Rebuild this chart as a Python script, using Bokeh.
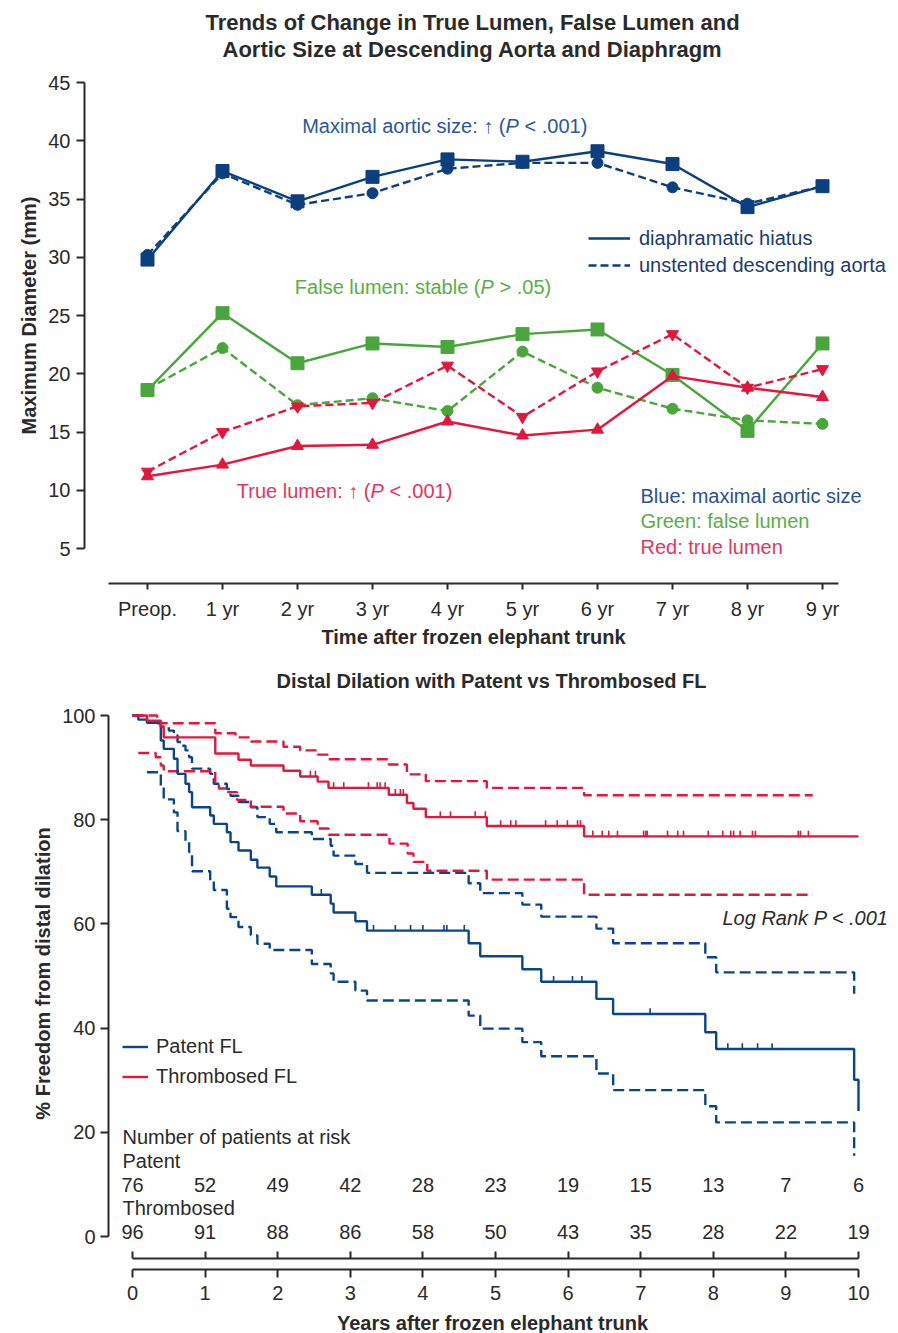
import numpy as np
from bokeh.plotting import figure
from bokeh.models import Label, Legend, LegendItem, LinearAxis, FixedTicker, Range1d
from bokeh.layouts import column
from bokeh.embed import file_html
from bokeh.resources import INLINE
from bokeh.core.properties import value

FONT = "Liberation Sans"

# ---------------- data: top chart ----------------
time_labels = ["Preop.", "1 yr", "2 yr", "3 yr", "4 yr", "5 yr", "6 yr", "7 yr", "8 yr", "9 yr"]
aorta_hiatus = [29.8, 37.4, 34.8, 36.9, 38.4, 38.2, 39.1, 38.0, 34.3, 36.1]
aorta_desc = [30.2, 37.2, 34.5, 35.5, 37.6, 38.1, 38.1, 36.0, 34.6, 36.1]
fl_hiatus = [18.6, 25.2, 20.9, 22.6, 22.3, 23.4, 23.8, 19.9, 15.1, 22.6]
fl_desc = [18.7, 22.2, 17.3, 17.9, 16.8, 21.9, 18.8, 17.0, 16.0, 15.7]
tl_hiatus = [11.2, 12.2, 13.8, 13.9, 15.9, 14.7, 15.2, 19.8, 18.8, 18.0]
tl_desc = [11.6, 15.0, 17.2, 17.5, 20.7, 16.3, 20.2, 23.4, 18.8, 20.4]
y_ticks_top = [5, 10, 15, 20, 25, 30, 35, 40, 45]

# ---------------- data: bottom chart (Kaplan-Meier) ----------------
patent_t = [0, 0.08, 0.2, 0.39, 0.43, 0.57, 0.62, 0.73, 0.78, 0.82, 1.07, 1.12, 1.30, 1.35, 1.46,
            1.63, 1.72, 1.89, 1.98, 2.47, 2.73, 2.77, 3.07, 3.23, 4.63, 4.79, 5.37, 5.63, 6.39,
            6.62, 7.89, 8.04, 9.94, 10.0]
patent_s = [100, 99.2, 98.6, 95.2, 93.6, 91.7, 88.8, 86.9, 85.3, 82.4, 80.8, 79.2, 77.6, 75.7, 74.1,
            72.3, 70.8, 69.1, 67.2, 65.6, 63.9, 62.2, 60.5, 58.7, 56.3, 53.8, 51.3, 48.9, 45.6,
            42.7, 39.2, 36.0, 30.1, 24.1]
patent_up_t = [0, 0.2, 0.39, 0.5, 0.57, 0.62, 0.68, 0.73, 0.78, 0.82, 1.07, 1.12, 1.30, 1.35, 1.46,
               1.63, 1.72, 1.89, 1.98, 2.47, 2.73, 2.77, 3.07, 3.23, 4.63, 4.79, 5.37, 5.63, 6.39,
               6.62, 7.89, 8.04, 9.94]
patent_up_s = [100, 98.7, 97.8, 97.1, 96.2, 94.9, 94.2, 93.3, 92.0, 89.8, 88.8, 86.9, 85.9, 84.6, 83.4,
               82.4, 80.5, 79.2, 77.6, 76.3, 75.0, 73.1, 71.5, 69.8, 67.8, 65.9, 63.7, 61.4, 59.1,
               56.3, 53.6, 50.7, 46.6]
patent_lo_t = [0.2, 0.39, 0.43, 0.57, 0.62, 0.73, 0.78, 0.82, 1.07, 1.12, 1.30, 1.35, 1.46, 1.63,
               1.72, 1.89, 2.47, 2.73, 2.77, 3.07, 3.23, 4.63, 4.79, 5.37, 5.63, 6.39, 6.62, 7.89,
               8.04, 9.94]
patent_lo_s = [89.1, 86.2, 83.9, 81.4, 77.8, 75.7, 73.8, 70.1, 68.3, 66.5, 62.9, 61.3, 59.4, 57.8,
               56.2, 55.0, 52.3, 50.5, 48.9, 47.2, 45.3, 42.4, 39.9, 37.3, 34.6, 31.3, 28.1, 25.0,
               21.9, 15.5]
patent_cens = [2.6, 3.32, 3.62, 3.83, 4.0, 4.29, 4.33, 4.57, 5.80, 6.06, 6.19, 7.13, 8.2, 8.4, 8.61, 8.81]

thromb_t = [0, 0.2, 0.39, 0.43, 1.14, 1.46, 1.63, 2.08, 2.31, 2.55, 2.7, 3.53, 3.78, 3.87, 4.04,
            4.88, 6.22, 10.0]
thromb_s = [100, 99.0, 97.9, 95.8, 92.7, 91.5, 90.4, 89.4, 88.3, 87.3, 86.1, 84.8, 83.2, 82.1, 80.5,
            78.8, 76.8, 76.8]
thromb_up_t = [0, 0.34, 1.14, 1.42, 1.63, 2.08, 2.31, 2.55, 2.7, 3.53, 3.78, 4.04, 4.88, 6.22, 9.37]
thromb_up_s = [100, 98.5, 96.6, 95.8, 95.0, 94.0, 93.3, 92.5, 91.6, 90.6, 88.7, 87.4, 86.1, 84.7, 84.7]
thromb_lo_t = [0.08, 0.32, 0.39, 0.43, 1.14, 1.19, 1.30, 1.44, 1.63, 2.08, 2.31, 2.55, 2.7, 3.54,
               3.79, 3.87, 4.06, 4.88, 6.22, 9.37]
thromb_lo_s = [92.8, 92.0, 90.4, 89.3, 87.2, 86.0, 85.3, 83.8, 82.5, 81.2, 79.7, 78.3, 77.1, 75.4,
               73.5, 71.9, 70.2, 68.5, 65.6, 65.6]
thromb_cens = [2.45, 2.52, 2.77, 2.91, 3.25, 3.37, 3.41, 3.48, 3.62, 3.69, 3.73, 4.24, 4.38, 4.72,
               4.86, 5.07, 5.21, 5.28, 5.69, 5.85, 5.99, 6.13, 6.17, 6.34, 6.47, 6.56, 6.68, 7.04,
               7.07, 7.09, 7.37, 7.51, 7.59, 7.93, 8.13, 8.24, 8.28, 8.37, 8.54, 8.58, 9.17, 9.2, 9.31]

risk_years = [0, 1, 2, 3, 4, 5, 6, 7, 8, 9, 10]
risk_patent = [76, 52, 49, 42, 28, 23, 19, 15, 13, 7, 6]
risk_thromb = [96, 91, 88, 86, 58, 50, 43, 35, 28, 22, 19]
y_ticks_bottom = [0, 20, 40, 60, 80, 100]

# ---------------- styles / layout ----------------
NAVY = "#0d3f80"
GREEN = "#4aa63c"
RED = "#e3173e"
KM_BLUE = "#0b4589"
KM_RED = "#e2173d"
AX = "#2a2a2a"
TXT = "#2a2a2a"
BLUE_TXT = "#2c56a0"
GREEN_TXT = "#5aae48"
RED_TXT = "#e8345a"
W = 898
H1 = 660
H2 = 673


class PixMap:
    """Linear pixel <-> data mapping for a figure whose frame fills the canvas."""

    def __init__(self, x_anchor_px, x_anchor_val, px_per_x, y_anchor_px, y_anchor_val, px_per_y, h):
        self.xa, self.xv, self.kx = x_anchor_px, x_anchor_val, px_per_x
        self.ya, self.yv, self.ky = y_anchor_px, y_anchor_val, px_per_y
        self.h = h

    def x(self, px):
        return self.xv + (px - self.xa) / self.kx

    def y(self, py):
        return self.yv - (py - self.ya) / self.ky


def make_fig(m, h):
    p = figure(width=W, height=h, x_range=Range1d(m.x(0), m.x(W)), y_range=Range1d(m.y(h), m.y(0)),
               output_backend="svg", toolbar_location=None, x_axis_location=None,
               y_axis_location=None, min_border=0, min_border_left=0, min_border_right=0,
               min_border_top=0, min_border_bottom=0)
    p.outline_line_color = None
    p.grid.visible = False
    p.background_fill_color = "white"
    p.border_fill_color = "white"
    return p


def style_axis(a, tick_in, tick_out, standoff, size="20px"):
    a.major_tick_in = tick_in
    a.major_tick_out = tick_out
    a.minor_tick_line_color = None
    a.major_label_standoff = standoff
    a.axis_line_width = 2
    a.axis_line_color = AX
    a.major_tick_line_width = 2
    a.major_tick_line_color = AX
    a.major_label_text_font = FONT
    a.major_label_text_font_size = size
    a.major_label_text_color = TXT


def add_label(p, h, px, py, text, size="20px", color=TXT, style="normal", align="left", angle=0.0):
    p.add_layout(Label(x=px, y=h - py, x_units="screen", y_units="screen",
                       text=text, text_font=FONT, text_font_size=size, text_color=color,
                       text_font_style=style, text_align=align, text_baseline="middle",
                       angle=angle))


# =============== top chart ===============
m1 = PixMap(147, 0, 75.0, 82, 45, 11.65, H1)
p1 = make_fig(m1, H1)

xs = list(range(len(time_labels)))
ya = LinearAxis(ticker=FixedTicker(ticks=y_ticks_top), bounds=(5, 45), fixed_location=m1.x(84))
style_axis(ya, 0, 8, 6)
p1.add_layout(ya, "left")
xa = LinearAxis(ticker=FixedTicker(ticks=xs), bounds=(m1.x(108), m1.x(838)), fixed_location=m1.y(583),
                major_label_overrides={i: lab for i, lab in enumerate(time_labels)})
style_axis(xa, 0, 6, 8)
p1.add_layout(xa, "below")

LW = 2.4
DASH_TOP = "8 4"
r_bd = p1.line(xs, aorta_desc, color=NAVY, line_width=LW, line_dash=DASH_TOP)
p1.scatter(xs, aorta_desc, marker="circle", size=11, color=NAVY)
r_bs = p1.line(xs, aorta_hiatus, color=NAVY, line_width=LW)
p1.scatter(xs, aorta_hiatus, marker="square", size=13, color=NAVY)

p1.line(xs, fl_desc, color=GREEN, line_width=LW, line_dash=DASH_TOP)
p1.scatter(xs, fl_desc, marker="circle", size=11, color=GREEN)
p1.line(xs, fl_hiatus, color=GREEN, line_width=LW)
p1.scatter(xs, fl_hiatus, marker="square", size=13, color=GREEN)

p1.line(xs, tl_desc, color=RED, line_width=LW, line_dash=DASH_TOP)
p1.scatter(xs, tl_desc, marker="inverted_triangle", size=12, color=RED)
p1.line(xs, tl_hiatus, color=RED, line_width=LW)
p1.scatter(xs, tl_hiatus, marker="triangle", size=12, color=RED)

leg1 = Legend(items=[LegendItem(label="diaphramatic hiatus", renderers=[r_bs]),
                     LegendItem(label="unstented descending aorta", renderers=[r_bd])],
              location=(588, H1 - 277), orientation="vertical",
              glyph_width=42, glyph_height=24, label_height=24, label_standoff=9, spacing=3,
              padding=0, margin=0, border_line_color=None, background_fill_alpha=0,
              label_text_font=FONT, label_text_font_size="20px", label_text_color="#1e3a70")
p1.add_layout(leg1)

L1 = lambda *a, **k: add_label(p1, H1, *a, **k)
L1(472, 22, "Trends of Change in True Lumen, False Lumen and", size="22px", style="bold", align="center")
L1(472, 49, "Aortic Size at Descending Aorta and Diaphragm", size="22px", style="bold", align="center")
L1(28, 315, "Maximum Diameter (mm)", size="20px", style="bold", align="center", angle=np.pi / 2)
L1(473, 636, "Time after frozen elephant trunk", size="20px", style="bold", align="center")

L1(505, 125, "Maximal aortic size: \u2191 (", color=BLUE_TXT, align="right")
L1(505, 125, "P", color=BLUE_TXT, style="italic")
L1(524, 125, "< .001)", color=BLUE_TXT)
L1(480, 286, "False lumen: stable (", color=GREEN_TXT, align="right")
L1(480, 286, "P", color=GREEN_TXT, style="italic")
L1(499, 286, "> .05)", color=GREEN_TXT)
L1(370, 490, "True lumen: \u2191 (", color=RED_TXT, align="right")
L1(370, 490, "P", color=RED_TXT, style="italic")
L1(389, 490, "< .001)", color=RED_TXT)
L1(640, 495, "Blue: maximal aortic size", color="#2b4f9a")
L1(640, 520, "Green: false lumen", color=GREEN_TXT)
L1(640, 546, "Red: true lumen", color=RED_TXT)

# =============== bottom chart ===============
TOP2 = H1  # page y where the bottom figure starts
m2 = PixMap(132, 0, 72.6, 715 - TOP2, 100, 5.21, H2)
p2 = make_fig(m2, H2)

yb = LinearAxis(ticker=FixedTicker(ticks=y_ticks_bottom), bounds=(0, 100), fixed_location=m2.x(108))
style_axis(yb, 0, 8, 5)
p2.add_layout(yb, "left")

# upper axis line (ticks pointing up) carries the thrombosed at-risk numbers
ax_up = LinearAxis(ticker=FixedTicker(ticks=risk_years), bounds=(0, 10),
                   fixed_location=m2.y(1258 - TOP2),
                   major_label_overrides={t: str(n) for t, n in zip(risk_years, risk_thromb)})
style_axis(ax_up, 0, 7, 13)
p2.add_layout(ax_up, "above")
ax_dn = LinearAxis(ticker=FixedTicker(ticks=risk_years), bounds=(0, 10),
                   fixed_location=m2.y(1269 - TOP2))
style_axis(ax_dn, 0, 8, 8)
p2.add_layout(ax_dn, "below")

KM_DASH = "11 5"
KM_LW = 2.4
p2.step(patent_up_t, patent_up_s, mode="after", color=KM_BLUE, line_width=KM_LW, line_dash=KM_DASH)
p2.step(patent_lo_t, patent_lo_s, mode="after", color=KM_BLUE, line_width=KM_LW, line_dash=KM_DASH)
p2.step(thromb_up_t, thromb_up_s, mode="after", color=KM_RED, line_width=KM_LW, line_dash=KM_DASH)
p2.step(thromb_lo_t, thromb_lo_s, mode="after", color=KM_RED, line_width=KM_LW, line_dash=KM_DASH)
r_pat = p2.step(patent_t, patent_s, mode="after", color=KM_BLUE, line_width=KM_LW)
r_thr = p2.step(thromb_t, thromb_s, mode="after", color=KM_RED, line_width=KM_LW)


def step_value(ts, ss, t):
    i = np.searchsorted(np.asarray(ts), t, side="right") - 1
    return float(ss[i])


CENS_LEN = 1.1
for cens, ts, ss, col in [(patent_cens, patent_t, patent_s, KM_BLUE),
                          (thromb_cens, thromb_t, thromb_s, KM_RED)]:
    yv = [step_value(ts, ss, c) for c in cens]
    p2.segment(x0=cens, y0=yv, x1=cens, y1=[v + CENS_LEN for v in yv], color=col, line_width=1.6)

leg2 = Legend(items=[LegendItem(label="Patent FL", renderers=[r_pat]),
                     LegendItem(label="Thrombosed FL", renderers=[r_thr])],
              location=(122, H2 - (1090 - TOP2)), orientation="vertical",
              glyph_width=26, glyph_height=27, label_height=27, label_standoff=8, spacing=3,
              padding=0, margin=0, border_line_color=None, background_fill_alpha=0,
              label_text_font=FONT, label_text_font_size="20px", label_text_color=TXT)
p2.add_layout(leg2)

p2.text(x=risk_years, y=[m2.y(1184 - TOP2)] * len(risk_years), text=[str(n) for n in risk_patent],
        text_align="center", text_baseline="middle", text_font=value(FONT),
        text_font_size="20px", text_color=TXT)

L2 = lambda px, py, *a, **k: add_label(p2, H2, px, py - TOP2, *a, **k)
L2(491, 680, "Distal Dilation with Patent vs Thrombosed FL", size="20px", style="bold", align="center")
L2(42, 973, "% Freedom from distal dilation", size="20px", style="bold", align="center", angle=np.pi / 2)
L2(722, 917, "Log Rank P < .001", style="italic")
L2(122, 1136, "Number of patients at risk")
L2(122, 1160, "Patent")
L2(122, 1207, "Thrombosed")
L2(492, 1322, "Years after frozen elephant trunk", size="20px", style="bold", align="center")

layout = column(p1, p2, spacing=0)
open("out.html", "w").write(file_html(layout, INLINE))
